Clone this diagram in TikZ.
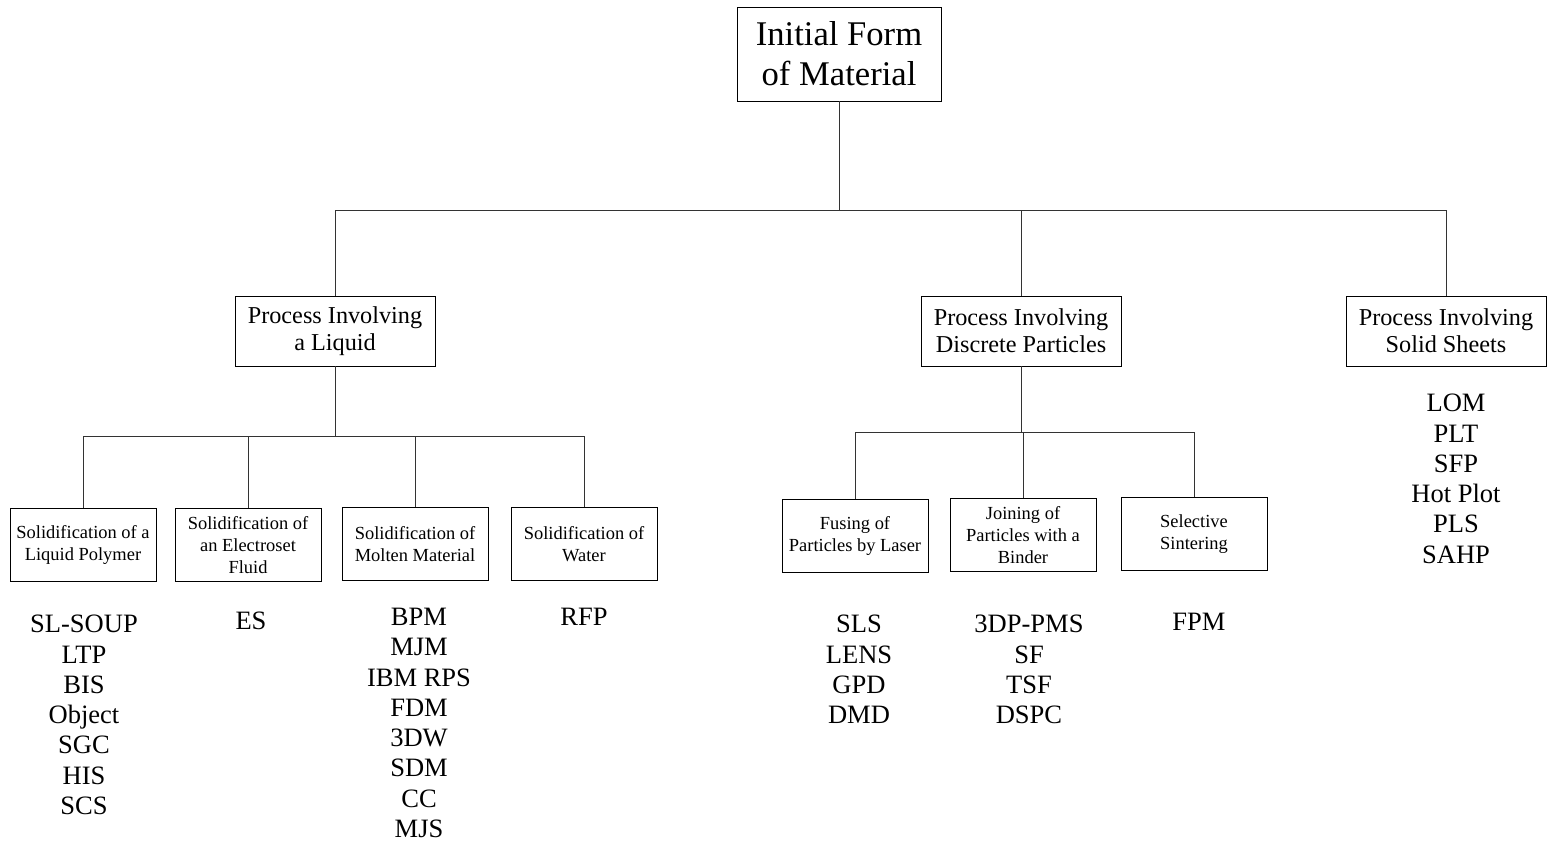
\documentclass[tikz,border=0pt]{standalone}
\usepackage{fontspec}
\setmainfont{Liberation Serif}
\usetikzlibrary{positioning}
\begin{document}
\begin{tikzpicture}[x=0.02cm,y=-0.02cm,
        box/.style={draw,line width=0.55pt,align=center,inner sep=2pt},
        toplevel/.style={box,minimum width=4.08cm,minimum height=1.88cm,font=\fontsize{19.7}{22.7}\selectfont},
        family/.style={box,minimum width=4cm,minimum height=1.4cm,font=\fontsize{13.8}{15.3}\selectfont},
        method/.style={box,minimum width=2.92cm,minimum height=1.46cm,font=\fontsize{10.5}{12.4}\selectfont},
        acronyms/.style={anchor=north,align=center,inner sep=0pt,font=\fontsize{15.1}{17.2}\selectfont},
        link/.style={line width=0.45pt,black!80}]
        \useasboundingbox (0,0) rectangle (1551,843);
        \node[toplevel] (initial) at (839,54) {Initial Form\\of Material};
        \node[family] (liquid) at (335,331) {Process Involving\\a Liquid};
        \node[family] (discrete) at (1021,331) {Process Involving\\Discrete Particles};
        \node[family] (sheets) at (1446,331) {Process Involving\\Solid Sheets};
        
        \node[method] (polymer) at (83,545) {Solidification of a\\Liquid Polymer};
        \node[method] (electroset) at (248,545) {Solidification of\\an Electroset\\Fluid};
        \node[method] (molten) at (415,544) {Solidification of\\Molten Material};
        \node[method] (water) at (584,544) {Solidification of\\Water};
        \node[method] (laser) at (855,536) {Fusing of\\Particles by Laser};
        \node[method] (binder) at (1023,535) {Joining of\\Particles with a\\Binder};
        \node[method] (sintering) at (1194,534) {Selective\\Sintering};
        
        \node[acronyms] (polymerlist) at (84,615) {SL-SOUP\\LTP\\BIS\\Object\\SGC\\HIS\\SCS};
        \node[acronyms] (electrosetlist) at (251,612) {ES};
        \node[acronyms] (moltenlist) at (419,608) {BPM\\MJM\\IBM RPS\\FDM\\3DW\\SDM\\CC\\MJS};
        \node[acronyms] (waterlist) at (584,608) {RFP};
        \node[acronyms] (laserlist) at (859,615) {SLS\\LENS\\GPD\\DMD};
        \node[acronyms] (binderlist) at (1029,615) {3DP-PMS\\SF\\TSF\\DSPC};
        \node[acronyms] (sinteringlist) at (1199,613) {FPM};
        \node[acronyms] (sheetslist) at (1456,394) {LOM\\PLT\\SFP\\Hot Plot\\PLS\\SAHP};
        
        \coordinate (hub) at (initial.south |- 0,210);
        \draw[link] (initial.south) -- (hub);
        \draw[link] (liquid.north) |- (hub) -| (sheets.north);
        \draw[link] (discrete.north) -- (discrete.north |- hub);
        
        \coordinate (liquidhub) at (liquid.south |- 0,436);
        \draw[link] (liquid.south) -- (liquidhub);
        \draw[link] (polymer.north) |- (liquidhub) -| (water.north);
        \draw[link] (electroset.north) -- (electroset.north |- liquidhub);
        \draw[link] (molten.north) -- (molten.north |- liquidhub);
        
        \coordinate (discretehub) at (discrete.south |- 0,432);
        \draw[link] (discrete.south) -- (discretehub);
        \draw[link] (laser.north) |- (discretehub) -| (sintering.north);
        \draw[link] (binder.north) -- (binder.north |- discretehub);
    \end{tikzpicture}
\end{document}
